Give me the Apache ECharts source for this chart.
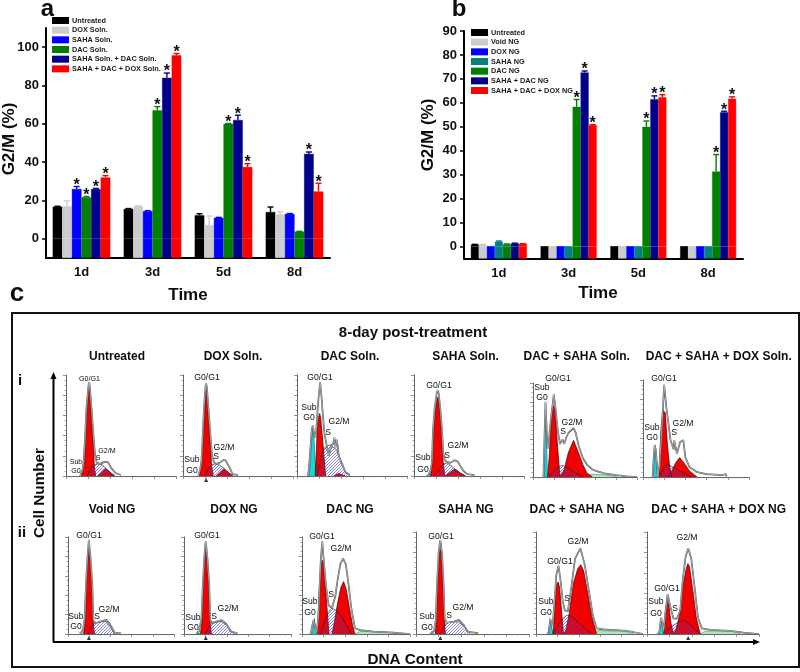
<!DOCTYPE html>
<html><head><meta charset="utf-8">
<style>html,body{margin:0;padding:0;background:#fff}#c{width:800px;height:672px}</style>
<script src="https://cdn.jsdelivr.net/npm/echarts@6/dist/echarts.min.js"></script>
</head><body><div id="c"></div>
<script>
// ---------- panels a and b ----------
const timeCats = ['1d','3d','5d','8d'];
const aTicks = [0,20,40,60,80,100];
const bTicks = [0,10,20,30,40,50,60,70,80,90];
const aNames = ['Untreated','DOX Soln.','SAHA Soln.','DAC Soln.','SAHA Soln. + DAC Soln.','SAHA + DAC + DOX Soln.'];
const aColors = ['#000000','#cccccc','#0000ff','#008000','#00008b','#ff0000'];
const aUntreated = [16.8,15.6,12.3,14];
const aDox = [17,17,7.2,12.8];
const aSaha = [26,14.5,11,13];
const aDac = [21.7,67,60,3.8];
const aSahaDac = [26,84,62,44.3];
const aTriple = [32,95.7,37.5,24.7];
const aUntreatedErr = [.2,.2,.8,2.6];
const aDoxErr = [2.8,.2,4.7,1.3];
const aSahaErr = [1.3,.2,.2,.2];
const aDacErr = [.4,2,.2,.1];
const aSahaDacErr = [.3,2.5,2.5,1];
const aTripleErr = [1,1,1.7,4.3];
const aStars = [[],[],[0],[0,1,2],[0,1,2,3],[0,1,2,3]];
const bNames = ['Untreated','Void NG','DOX NG','SAHA NG','DAC NG','SAHA + DAC NG','SAHA + DAC + DOX NG'];
const bColors = ['#000000','#cccccc','#0000ff','#008080','#008000','#00008b','#ff0000'];
const bUntreated = [.8,0,0,0];
const bVoid = [.8,0,0,0];
const bDox = [.1,0,0,0];
const bSaha = [2,0,0,0];
const bDac = [.9,58.3,50,31.3];
const bSahaDac = [1.3,72.7,61.5,56];
const bTriple = [1.1,50.7,62.3,61.7];
const bUntreatedErr = [.1,0,0,0];
const bVoidErr = [.1,0,0,0];
const bDoxErr = [0,0,0,0];
const bSahaErr = [.3,0,0,0];
const bDacErr = [.2,3.1,2.4,7.1];
const bSahaDacErr = [.1,.6,1.4,.5];
const bTripleErr = [.1,.2,1.1,.8];
const bStars = [[],[],[],[],[1,2,3],[1,2,3],[1,2,3]];

// ---------- panel c: histograms, x = DNA channel (0-100), y = % of axis height ----------
const p1Sub=[[12,0],[13,1.5],[15,0]];
const p1G0=[[14,0],[16,10],[17.5,30],[18.8,60],[20.5,84],[21,86],[21.8,84],[23,60],[25,30],[25.7,10],[27,0]];
const p1S=[[19,0],[22,6],[26,11],[29,12],[33,11],[37,7],[41,3],[45,0]];
const p1G2=[[29,0],[32,3],[36,7.3],[40,3.5],[44,0]];
const p1Deb=[];
const p1Line=[[13,1],[15,6],[16,14],[17.2,35],[18.5,66],[20.3,88],[21,93],[21.7,88],[23.3,66],[25.3,35],[26.5,20],[28,13],[31,12],[35,14],[38,14],[41,8],[45,3],[50,1]];
const p2Sub=[[13,0],[14,1.5],[16,0]];
const p2G0=[[15,0],[16.5,10],[18,30],[19.3,60],[20.5,84],[21,86],[21.6,84],[23,60],[25,30],[26,10],[27.5,0]];
const p2S=[[20,0],[23,7],[26,11],[29,12],[33,11],[38,7],[42,3],[46,0]];
const p2G2=[[30,0],[33,3],[37,7],[41,3.5],[45,0]];
const p2Deb=[];
const p2Line=[[14,1],[15.5,6],[16.8,15],[17.7,35],[19,66],[20.4,88],[21,92],[21.7,88],[23.2,66],[25.3,35],[26.5,20],[28,14],[30,12],[33,13],[37,16],[39,15],[42,9],[45,2],[50,.8]];
const p3Sub=[[11,0],[12.5,20],[13.5,38],[14.5,47],[15.5,38],[16.5,15],[18,0]];
const p3G0=[[16.5,0],[17.5,22],[18.5,50],[20,60],[20.6,62],[21.5,58],[23,40],[24.5,20],[26,0]];
const p3S=[[18,0],[22,20],[25,28],[30,31],[36,26],[40,14],[44,4],[48,0]];
const p3G2=[[33,0],[38,2.5],[44,0]];
const p3Deb=[];
const p3Line=[[10,0],[11,10],[12.5,32],[13.5,47],[14.5,50],[15.5,42],[16.5,38],[17.5,45],[18.5,62],[19.5,76],[21,93],[22.5,76],[23.5,60],[25,42],[27,30],[29,20],[31,30],[33,32],[34,38],[35,28],[36,36],[37,30],[38,20],[41,12],[44,4],[48,1]];
const p4Sub=[[11,0],[13.5,2],[16,0]];
const p4G0=[[15,0],[16.3,10],[17.5,42],[19,62],[20.8,76],[21.5,78],[22.3,76],[23.7,62],[25,42],[26.5,14],[28,0]];
const p4S=[[19,0],[23,7],[27,12],[30,13],[34,10],[38,6],[42,3],[46,0]];
const p4G2=[[28,0],[32,3],[37,7],[42,3],[47,0]];
const p4Deb=[];
const p4Line=[[13,1],[15,5],[16.3,14],[17.3,46],[18.7,66],[20.6,82],[21.5,85],[22.4,82],[24,66],[25.4,46],[26.7,22],[28,16],[30,14],[33,13],[37,15.5],[40,14],[42,10],[45,5],[48,2],[55,.8]];
const p5Sub=[[10.5,0],[11,30],[12,68],[13,35],[14,0]];
const p5G0=[[14,0],[15.5,20],[17,50],[18.5,72],[20,76],[21.5,68],[23.5,34],[26,0]];
const p5S=[[15,0],[20,6],[24,10],[28,12.5],[33,10],[38,6],[43,3],[48,0]];
const p5G2=[[26,0],[30,8],[34,26],[39,39],[43,28],[48,13],[52,4],[57,0]];
const p5Deb=[[30,0],[45,2],[60,3],[72,2],[82,0]];
const p5Line=[[10,0],[11,40],[12,80],[13,55],[14,30],[15,35],[17,60],[19,78],[20,88],[21.5,75],[24,48],[26,35],[27.5,35],[28.5,40],[30,35],[32,42],[34,47],[37,50],[39,52],[41,47],[44,33],[48,20],[52,13],[57,8],[62,6],[70,3.5],[80,2],[90,.7],[100,0]];
const p6Sub=[[10,0],[10.5,20],[11.6,33],[12.5,20],[13.5,0]];
const p6G0=[[15,0],[16,25],[17,50],[19,69],[20,71],[21,66],[23,34],[25,12],[27,0]];
const p6S=[[15,0],[19,8],[23,13],[27,11],[32,8],[37,5],[42,2],[46,0]];
const p6G2=[[23,0],[27,6],[31,15],[34.6,20],[39,14],[44,6],[51,0]];
const p6Deb=[];
const p6Line=[[9,0],[10,18],[11,33],[12,28],[14,3],[15.5,10],[17.5,45],[20,95],[22,72],[26,38],[29,28],[29.5,38],[32,24],[35,36],[38,38],[40,20],[44,10],[51,5],[60,3],[75,2],[78,3],[79,.5]];
const p7Sub=[[11,0],[12.5,1.7],[15,0]];
const p7G0=[[14.7,0],[16,12],[17.3,49],[18.6,75],[19.4,87],[19.7,88.6],[20,87],[21,75],[22.6,49],[23.6,14],[25,0]];
const p7S=[[19,0],[22,7],[25,11],[30,12.5],[36,13],[40,7],[44,0]];
const p7G2=[];
const p7Deb=[];
const p7Line=[[11,1],[13,2],[14.5,6],[15.7,16],[17,52],[18.3,78],[19.3,92],[19.7,97],[20.1,92],[21.3,78],[22.9,52],[24,14],[26,11],[30,12.7],[33,13.5],[36.5,14.5],[39,11],[41,7.6],[44,1.4],[50,.8]];
const p8Sub=[[11,0],[13,1.5],[15,0]];
const p8G0=[[15.3,0],[16.6,12],[17.9,49],[19.2,75],[20,87],[20.3,88.6],[20.6,87],[21.6,75],[23.2,49],[24.2,14],[25.6,0]];
const p8S=[[20,0],[23,7],[26,11],[30,12],[35,13],[40,9],[45,2],[47,0]];
const p8G2=[];
const p8Deb=[];
const p8Line=[[12,1],[14,3],[16.3,16],[17.6,52],[18.9,78],[19.9,92],[20.3,95.5],[20.7,92],[21.9,78],[23.5,52],[24.6,14],[26.5,11.5],[30,12.7],[35,14.5],[39,11],[44,2.5],[50,.8]];
const p9Sub=[[9.5,0],[10.5,8],[11.4,16],[12.5,8],[14,0]];
const p9G0=[[14,0],[15,20],[16,45],[17.5,70],[18.8,76],[20,70],[22,44],[23.5,22],[25,0]];
const p9S=[[17,0],[21,13],[24,22],[27.7,26.5],[32,24],[37,17],[42,7],[46,0]];
const p9G2=[[27.7,0],[30,12],[33,32],[36,48],[38.5,54],[41,46],[44,26],[47,8],[49,0]];
const p9Deb=[[48,0],[55,3],[70,2.6],[86,1],[92,0]];
const p9Line=[[8,0],[10.5,14],[11.4,16],[13.5,1.5],[15.2,18],[16.2,48],[17.5,78],[18.8,95.5],[20,78],[22.2,50],[24.6,30],[27.7,26.5],[30.8,38.6],[33,56],[35.5,72],[38,78],[40.5,72],[43,52],[45.5,28],[49,6],[54,4],[66,2.4],[84.6,1.4],[100,0]];
const p10Sub=[[12,0],[14,1.5],[16,0]];
const p10G0=[[17,0],[18,12],[19,50],[20.3,76],[21.2,84],[21.5,85],[21.8,84],[22.7,76],[24,50],[25,14],[26,0]];
const p10S=[[21,0],[24,6],[27,11],[33,12],[38,12],[43,7],[48,0]];
const p10G2=[];
const p10Deb=[];
const p10Line=[[13,1],[16,3],[17.5,14],[18.7,52],[20,79],[21.1,89],[21.5,92],[21.9,89],[23,79],[24.3,52],[25.4,16],[27,11],[33,12],[38,14],[42,9],[46,2],[55,.8]];
const p11Sub=[[11,0],[12,6],[13.3,14],[14.5,7],[16,0]];
const p11G0=[[15.8,0],[16.8,14],[18,38],[19.5,49],[20.7,51],[22,46],[23.5,28],[24.7,12],[25.7,0]];
const p11S=[[16,0],[20,7],[24,14],[29,18.5],[34,17],[40,11],[47,4],[52,0]];
const p11G2=[[25.7,0],[28,4],[31,20],[35,50],[39,64],[41.8,68],[44.5,62],[48,42],[52,18],[56.6,0]];
const p11Deb=[[52,0],[58,3.5],[70,3],[84,2.5],[92,0]];
const p11Line=[[10,0],[12,1],[13.3,15],[15.5,7],[17,28],[19,58],[21,67],[23,52],[25,32],[27,23],[29.7,22],[33,46],[36.5,74],[41.5,84],[45.5,68],[49.5,42],[53,19],[56.7,5.5],[63,4.5],[84.5,3.2],[100,0]];
const p12Sub=[[10.5,0],[11.5,7],[12.5,15],[13.5,7],[15,0]];
const p12G0=[[14.8,0],[16,10],[17.2,26],[18.4,32.6],[19.8,26],[21.5,10],[23.7,0]];
const p12S=[[16,0],[20,6],[24,9],[29,12],[33,13.5],[38,10],[43,4],[48,0]];
const p12G2=[[23.7,0],[26,5],[29,18],[32,46],[35,64],[36.5,69],[38,66],[41,42],[44,16],[47.5,0]];
const p12Deb=[[47,0],[52,2.8],[65,2.8],[76,2.6],[84,0]];
const p12Line=[[9,0],[11,1],[12.5,16],[15,5],[16.3,20],[18.4,39],[20.8,27],[23.7,15],[26.7,15],[29.7,23.5],[31.8,52],[34.5,76],[36.8,84],[39.5,74],[42.5,46],[45.5,16],[49,5.5],[56.4,4],[74,3.2],[86,1.3],[100,0]];

const panelTitles=['Untreated','DOX Soln.','DAC Soln.','SAHA Soln.','DAC + SAHA Soln.','DAC + SAHA + DOX Soln.','Void NG','DOX NG','DAC NG','SAHA NG','DAC + SAHA NG','DAC + SAHA + DOX NG'];
const peakMarks=[null,21,null,null,null,null,19.7,20.3,null,21.5,null,36.8];
const histSubs=[p1Sub,p2Sub,p3Sub,p4Sub,p5Sub,p6Sub,p7Sub,p8Sub,p9Sub,p10Sub,p11Sub,p12Sub];
const histG0=[p1G0,p2G0,p3G0,p4G0,p5G0,p6G0,p7G0,p8G0,p9G0,p10G0,p11G0,p12G0];
const histS=[p1S,p2S,p3S,p4S,p5S,p6S,p7S,p8S,p9S,p10S,p11S,p12S];
const histG2=[p1G2,p2G2,p3G2,p4G2,p5G2,p6G2,p7G2,p8G2,p9G2,p10G2,p11G2,p12G2];
const histDeb=[p1Deb,p2Deb,p3Deb,p4Deb,p5Deb,p6Deb,p7Deb,p8Deb,p9Deb,p10Deb,p11Deb,p12Deb];
const histLine=[p1Line,p2Line,p3Line,p4Line,p5Line,p6Line,p7Line,p8Line,p9Line,p10Line,p11Line,p12Line];

// ---------- layout (pixels) ----------
const FONT='"Liberation Sans",Arial,sans-serif';
const panelBoxes=[[66,375,110,101],[183,375,110,101],[297,375,110,101],[414,375,110,101],[533,383,104,94],[643,380,106,97],
                  [68,537,106,97],[184,537,107,97],[302,537,108,97],[416,532,113,102],[536,532,107,102],[647,532,112,102]];
const titleX=[117,233,350,465.5,576.7,718.7,112,234,350,466,577,718.7];
const markLabels=[
 [['G0/G1',89.5,379.5],['Sub',76,462],['G0',76,471],['S',98,458],['G2/M',107,451]],
 [['G0/G1',207,378],['Sub',192,460],['G0',192,471],['S',216,457],['G2/M',224,448]],
 [['G0/G1',320,378],['Sub',309,408],['G0',309,418],['S',328,433],['G2/M',339,422]],
 [['G0/G1',439,386],['Sub',423,458],['G0',423,470],['S',447,456],['G2/M',458,446]],
 [['G0/G1',558,379],['Sub',542,388],['G0',542,398],['S',563,432],['G2/M',572,423]],
 [['G0/G1',664,379],['Sub',652,428],['G0',652,438],['S',674,433],['G2/M',683,424]],
 [['G0/G1',89,536],['Sub',76,617],['G0',76,627],['S',97,617],['G2/M',109,610]],
 [['G0/G1',207,536],['Sub',193,618],['G0',193,628],['S',214,617],['G2/M',228,609]],
 [['G0/G1',322,537],['Sub',310,602],['G0',310,613],['S',331,595],['G2/M',341,549]],
 [['G0/G1',441,537],['Sub',427,617],['G0',427,628],['S',449,616],['G2/M',463,608]],
 [['G0/G1',560,562],['Sub',546,602],['G0',546,613],['S',567,599],['G2/M',578,542]],
 [['G0/G1',667,589],['Sub',656,602],['G0',656,614],['S',675,609],['G2/M',687,538]]
];

// hatch pattern for the S phase
const hatch=document.createElement('canvas');hatch.width=3;hatch.height=3;
(function(){const g=hatch.getContext('2d');g.strokeStyle='rgba(60,60,210,0.9)';g.lineWidth=.7;
 g.beginPath();g.moveTo(-1,1);g.lineTo(1,-1);g.moveTo(0,3);g.lineTo(3,0);g.moveTo(2,4);g.lineTo(4,2);g.stroke();})();

const grids=[],xAxes=[],yAxes=[],series=[],graphics=[];

function barPanel(gi,box,names,colors,vals,errs,stars,ymin,ymax,ticks,barW){
  grids.push({left:box[0],top:box[1],width:box[2],height:box[3]});
  xAxes.push({gridIndex:gi,type:'category',data:timeCats,boundaryGap:true,
    axisLine:{onZero:false,lineStyle:{color:'#000',width:2}},
    axisTick:{alignWithLabel:true,length:4,lineStyle:{color:'#000',width:1.5}},
    axisLabel:{color:'#111',fontFamily:FONT,fontWeight:'bold',fontSize:13,margin:8},splitLine:{show:false}});
  yAxes.push({gridIndex:gi,type:'value',min:ymin,max:ymax,interval:Math.abs(ymin),
    axisLine:{show:true,onZero:false,lineStyle:{color:'#000',width:2}},
    axisTick:{show:true,length:4,customValues:ticks,lineStyle:{color:'#000',width:1.5}},
    axisLabel:{color:'#111',fontFamily:FONT,fontWeight:'bold',fontSize:13,margin:7,customValues:ticks},splitLine:{show:false}});
  names.forEach((n,i)=>{
    const stack='p'+gi+'s'+i;
    const st={color:colors[i],borderColor:colors[i],borderWidth:.4};
    series.push({type:'bar',name:n,stack:stack,xAxisIndex:gi,yAxisIndex:gi,data:vals[i],
      barWidth:barW,barGap:'0%',itemStyle:st,silent:true,animation:false});
    // the drawn bars run down to the axis floor, below zero
    series.push({type:'bar',stack:stack,xAxisIndex:gi,yAxisIndex:gi,data:timeCats.map(()=>ymin),
      barWidth:barW,barGap:'0%',itemStyle:st,silent:true,animation:false});
  });
  const rows=[];
  names.forEach((n,i)=>timeCats.forEach((c,k)=>rows.push([k,vals[i][k],errs[i][k],i,stars[i].includes(k)?1:0])));
  series.push({type:'custom',xAxisIndex:gi,yAxisIndex:gi,data:rows,silent:true,animation:false,z:5,clip:false,
    encode:{x:0,y:1},
    renderItem(p,api){
      const k=api.value(0),v=api.value(1),e=api.value(2),s=api.value(3),st=api.value(4);
      const base=api.coord([k,v]),top=api.coord([k,v+e]);
      const x=base[0]+(s-(names.length-1)/2)*barW,kids=[];
      const stroke={stroke:colors[s],lineWidth:1.4};
      if(e>0){kids.push({type:'line',shape:{x1:x,y1:base[1],x2:x,y2:top[1]},style:stroke});
              kids.push({type:'line',shape:{x1:x-3,y1:top[1],x2:x+3,y2:top[1]},style:stroke});}
      if(st)kids.push({type:'text',x:x,y:top[1]+7,style:{text:'*',fill:'#111',font:'bold 16px '+FONT,textAlign:'center',textVerticalAlign:'bottom'}});
      return {type:'group',children:kids};
    }});
}
barPanel(0,[46,28,284,230],aNames,aColors,[aUntreated,aDox,aSaha,aDac,aSahaDac,aTriple],[aUntreatedErr,aDoxErr,aSahaErr,aDacErr,aSahaDacErr,aTripleErr],aStars,-10,110,aTicks,9.6);
barPanel(1,[464,31,279,227.5],bNames,bColors,[bUntreated,bVoid,bDox,bSaha,bDac,bSahaDac,bTriple],[bUntreatedErr,bVoidErr,bDoxErr,bSahaErr,bDacErr,bSahaDacErr,bTripleErr],bStars,-5,90,bTicks,8);

panelBoxes.forEach((b,i)=>{
  const gi=i+2;
  grids.push({left:b[0],top:b[1],width:b[2],height:b[3]});
  const ax={lineStyle:{color:'#666',width:1},onZero:false};
  xAxes.push({gridIndex:gi,type:'value',min:0,max:100,interval:20,axisLine:ax,
    axisTick:{show:true,length:3,lineStyle:{color:'#777',width:.8}},minorTick:{show:true,splitNumber:4,length:1.5,lineStyle:{color:'#888',width:.7}},
    axisLabel:{show:false},splitLine:{show:false},minorSplitLine:{show:false}});
  yAxes.push({gridIndex:gi,type:'value',min:0,max:100,interval:20,axisLine:Object.assign({show:true},{lineStyle:ax.lineStyle}),
    axisTick:{show:true,length:3,lineStyle:{color:'#777',width:.8}},minorTick:{show:true,splitNumber:4,length:1.5,lineStyle:{color:'#888',width:.7}},
    axisLabel:{show:false},splitLine:{show:false},minorSplitLine:{show:false}});
  const area=(d,fill,border,bw,z)=>{ if(!d.length)return;
    series.push({type:'line',xAxisIndex:gi,yAxisIndex:gi,data:d,showSymbol:false,smooth:false,silent:true,animation:false,z:z,
      lineStyle:{color:border,width:bw},areaStyle:{color:fill,opacity:1}});};
  area(histDeb[i],'#a8e8b8','#3a7a4a',.5,2);
  area(histSubs[i],'#10d8e0','#067',.6,3);
  area(histG0[i],'#f00000','#400',.7,3);
  area(histG2[i],'#f00000','#400',.7,3);
  area(histS[i],{image:hatch,repeat:'repeat'},'#311',.6,4);
  series.push({type:'line',xAxisIndex:gi,yAxisIndex:gi,data:histLine[i],showSymbol:false,silent:true,animation:false,z:5,
    lineStyle:{color:'#555',width:1.7}});
  series.push({type:'line',xAxisIndex:gi,yAxisIndex:gi,data:histLine[i],showSymbol:false,silent:true,animation:false,z:6,
    lineStyle:{color:'#d8d8d8',width:.6}});
  if(peakMarks[i]!==null)series.push({type:'scatter',xAxisIndex:gi,yAxisIndex:gi,data:[[peakMarks[i],-4]],symbol:'triangle',symbolSize:4,clip:false,silent:true,animation:false,itemStyle:{color:'#000'}});
});

function txt(x,y,s,size,bold,rot){
  graphics.push({type:'text',x:x,y:y,rotation:rot||0,z:20,silent:true,
    style:{text:s,fill:'#0c0c0c',font:(bold?'bold ':'')+size+'px '+FONT,textAlign:'center',textVerticalAlign:'middle'}});
}
txt(47.5,9,'a',24,true);
txt(459,9,'b',24,true);
txt(17,294,'c',26,true);
txt(9,139,'G2/M (%)',17,true,Math.PI/2);
txt(428,135,'G2/M (%)',17,true,Math.PI/2);
txt(188,295,'Time',17,true);
txt(598,293,'Time',17,true);
txt(413,333,'8-day post-treatment',15,true);
txt(40,493,'Cell Number',15.3,true,Math.PI/2);
txt(415,660,'DNA Content',15.3,true);
txt(20,381,'i',15,true);
txt(22,533,'ii',15,true);
panelTitles.forEach((t,i)=>txt(titleX[i],i<6?357:510,t,12,true));
markLabels.forEach((ls,i)=>ls.forEach(l=>txt(l[1],l[2],l[0],i===0?7.1:8.6,false)));
// frame and long axes
graphics.push({type:'rect',z:1,silent:true,shape:{x:12,y:313,width:787,height:354},style:{fill:'none',stroke:'#111',lineWidth:2}});
graphics.push({type:'line',z:1,silent:true,shape:{x1:53.5,y1:377,x2:53.5,y2:642},style:{stroke:'#000',lineWidth:2}});
graphics.push({type:'line',z:1,silent:true,shape:{x1:53,y1:642,x2:756,y2:642},style:{stroke:'#000',lineWidth:2}});
graphics.push({type:'polygon',z:1,silent:true,shape:{points:[[53.5,372],[50.5,379],[56.5,379]]},style:{fill:'#000'}});
graphics.push({type:'polygon',z:1,silent:true,shape:{points:[[760,642],[753,639],[753,645]]},style:{fill:'#000'}});

const legendOpts=(names,left,top)=>({show:true,orient:'vertical',left:left,top:top,data:names,selectedMode:false,icon:'rect',
  itemWidth:17,itemHeight:7,itemGap:1.67,padding:0,itemStyle:{borderWidth:0},textStyle:{fontFamily:FONT,fontWeight:'bold',fontSize:7.3,lineHeight:8,color:'#1a1a1a',padding:[0,0,0,-2]}});

const chart=echarts.init(document.getElementById('c'),null,{renderer:'canvas'});
chart.setOption({animation:false,backgroundColor:'#fff',grid:grids,xAxis:xAxes,yAxis:yAxes,series:series,
  legend:[legendOpts(aNames,52,16.5),legendOpts(bNames,471,28.5)],graphic:graphics});
</script></body></html>
